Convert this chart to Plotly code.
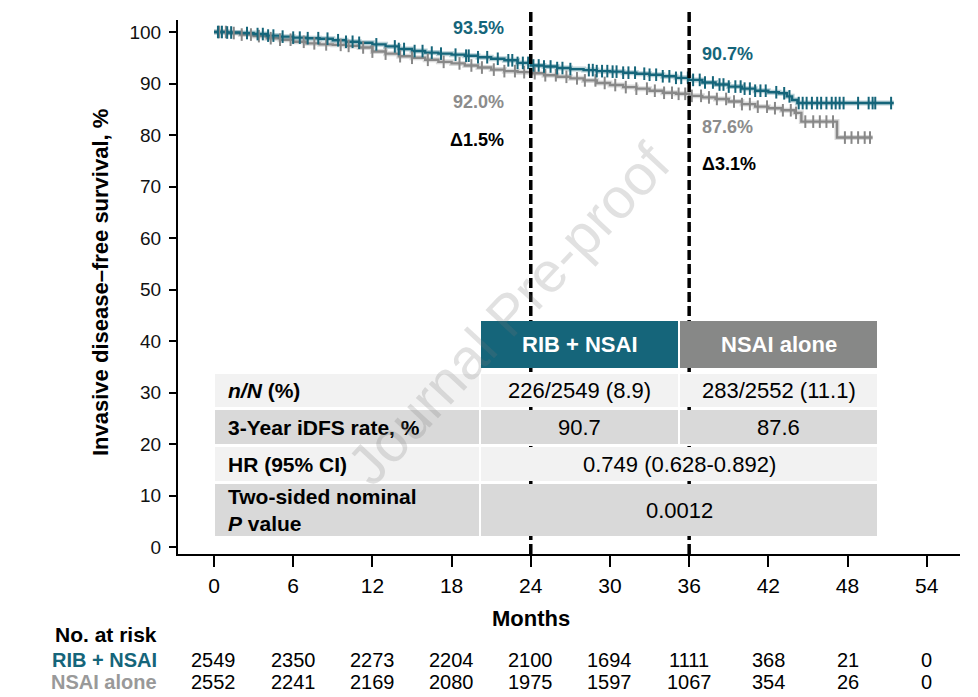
import plotly.graph_objects as go

# ---------------- data ----------------
months_ticks = [0, 6, 12, 18, 24, 30, 36, 42, 48, 54]
y_ticks = [0, 10, 20, 30, 40, 50, 60, 70, 80, 90, 100]

rib_t = [0, 1, 2, 3, 4, 5, 6, 7, 8, 9, 10, 11, 12, 13, 14, 15, 16, 17, 18, 19, 20, 21, 22, 23, 24,
         25, 26, 27, 28, 29, 30, 31, 32, 33, 34, 35, 36, 37, 38, 39, 40, 41, 42, 42.8, 43.4, 43.8, 44.2, 51.5]
rib_s = [100, 99.9, 99.8, 99.6, 99.3, 99.1, 98.9, 98.8, 98.7, 98.4, 98.1, 97.9, 97.6, 97.2, 96.7, 96.3,
         96.0, 95.8, 95.6, 95.4, 95.1, 94.8, 94.5, 94.0, 93.5, 93.3, 93.0, 92.8, 92.6, 92.4, 92.3, 92.1,
         91.9, 91.7, 91.4, 91.1, 90.7, 90.2, 89.8, 89.4, 89.0, 88.6, 88.3, 88.1, 87.5, 86.8, 86.2, 86.2]

nsai_t = [0, 1, 2, 3, 4, 5, 6, 7, 8, 9, 10, 11, 12, 13, 14, 15, 16, 17, 18, 19, 20, 21, 22, 23, 24,
          25, 26, 27, 28, 29, 30, 31, 32, 33, 34, 35, 36, 37, 38, 39, 40, 41, 42, 43, 44, 44.5, 47.2, 49.9]
nsai_s = [100, 99.8, 99.5, 99.2, 98.8, 98.5, 98.1, 97.8, 97.6, 97.5, 97.3, 97.0, 96.2, 95.8, 95.3, 95.0,
          94.6, 94.2, 93.9, 93.5, 93.1, 92.7, 92.4, 92.2, 92.0, 91.6, 91.3, 91.0, 90.6, 90.1, 89.7, 89.3,
          89.0, 88.6, 88.2, 88.0, 87.6, 87.3, 87.0, 86.5, 86.0, 85.5, 85.2, 84.8, 84.3, 82.6, 79.5, 79.5]

rib_cens = [0.3, 0.6, 1.0, 1.3, 2.5, 3.3, 3.7, 4.1, 4.5, 5.2, 6.0, 6.5, 7.1, 7.9, 8.6, 9.4, 10.0, 10.5,
            11.0, 12.3, 13.7, 14.0, 14.4, 15.2, 15.8, 16.5, 17.2, 18.3, 19.1, 19.3, 20.0, 20.7, 21.5,
            22.3, 22.6, 23.0, 23.4, 23.8, 24.2, 24.6, 25.0, 25.5, 26.0, 26.4, 27.0, 28.4, 28.7, 29.0,
            29.4, 29.8, 30.2, 30.5, 31.0, 31.4, 31.9, 32.6, 33.0, 33.5, 34.0, 34.5, 35.0, 35.4, 35.9,
            36.3, 36.8, 37.2, 37.8, 38.3, 38.6, 39.0, 39.5, 39.9, 40.2, 40.6, 41.0, 41.4, 41.8, 42.6,
            43.2, 43.6, 44.3, 44.6, 44.9, 45.3, 45.7, 46.0, 46.4, 46.8, 47.1, 47.4, 47.7, 48.8, 49.6,
            49.9, 50.1, 51.3]
nsai_cens = [0.4, 0.9, 1.5, 2.1, 2.8, 3.4, 4.3, 5.0, 5.8, 6.8, 7.6, 8.5, 9.6, 10.2, 11.3, 12.0, 13.0,
             14.1, 15.0, 16.2, 17.4, 18.6, 19.5, 20.3, 21.2, 22.0, 22.8, 23.5, 24.3, 25.1, 25.9, 26.7,
             27.5, 28.1, 28.9, 29.6, 30.4, 31.2, 32.0, 32.8, 33.4, 34.1, 34.7, 35.2, 35.7, 36.2, 36.9,
             37.5, 38.1, 38.8, 39.4, 40.0, 40.6, 41.2, 41.9, 42.5, 43.1, 43.7, 44.1, 44.8, 45.4, 45.9,
             46.4, 46.9, 47.8, 48.3, 48.8, 49.3, 49.7]

risk_rib = [2549, 2350, 2273, 2204, 2100, 1694, 1111, 368, 21, 0]
risk_nsai = [2552, 2241, 2169, 2080, 1975, 1597, 1067, 354, 26, 0]

arm_names = ["RIB + NSAI", "NSAI alone"]
row_labels = ["<b><i>n/N</i> (%)</b>", "<b>3-Year iDFS rate, %</b>", "<b>HR (95% CI)</b>",
              "<b>Two-sided nominal<br><i>P</i> value</b>"]
row_rib = ["226/2549 (8.9)", "90.7"]
row_nsai = ["283/2552 (11.1)", "87.6"]
row_merged = ["0.749 (0.628-0.892)", "0.0012"]

landmarks = [24, 36]
lm_rib = ["93.5%", "90.7%"]
lm_nsai = ["92.0%", "87.6%"]
lm_delta = ["\u03941.5%", "\u03943.1%"]

# ---------------- style ----------------
TEAL = "#15657A"
GRAY = "#888888"
FONT = "Liberation Sans, Arial, sans-serif"

OFF = 8                      # page body margin
W, H = 978 - OFF, 697 - OFF  # figure size
L, R, T, B = 178, 960, 20, 554  # plot area in reference pixels


def px(x):
    return (x - L) / (R - L)


def py(y):
    return (B - y) / (B - T)


def step_at(ts, ss, t):
    v = ss[0]
    for ti, si in zip(ts, ss):
        if ti <= t:
            v = si
        else:
            break
    return v


fig = go.Figure()

for ts, ss, col in [(nsai_t, nsai_s, GRAY), (rib_t, rib_s, TEAL)]:
    fig.add_trace(go.Scatter(x=ts, y=ss, mode="lines", line=dict(color=col, width=5, shape="hv"),
                             opacity=0.3, hoverinfo="skip", showlegend=False))
    fig.add_trace(go.Scatter(x=ts, y=ss, mode="lines", line=dict(color=col, width=2.4, shape="hv"),
                             showlegend=False))

for ts, ss, cens, col in [(nsai_t, nsai_s, nsai_cens, GRAY), (rib_t, rib_s, rib_cens, TEAL)]:
    fig.add_trace(go.Scatter(x=cens, y=[step_at(ts, ss, c) for c in cens], mode="markers",
                             marker=dict(symbol="line-ns", size=9, line=dict(color=col, width=2)),
                             showlegend=False))

shapes = []
for lm in landmarks:
    shapes.append(dict(type="line", xref="x", yref="paper", x0=lm, x1=lm, y0=0, y1=py(8),
                       line=dict(color="black", width=3.5, dash="10px,4px")))

# table geometry (reference pixels)
c1 = (215, 479)
c2 = (481, 678)
c3 = (680, 877)
hdr = (321, 368)
rows = [(374, 407), (410, 444), (447, 481), (484, 536)]
row_fill = ["#F2F2F2", "#D9D9D9", "#F2F2F2", "#D9D9D9"]


def rect(x0, x1, y0, y1, fill):
    return dict(type="rect", xref="paper", yref="paper", x0=px(x0), x1=px(x1), y0=py(y1), y1=py(y0),
                fillcolor=fill, line=dict(width=0), layer="above")


shapes.append(rect(c2[0], c2[1], hdr[0], hdr[1], TEAL))
shapes.append(rect(c3[0], c3[1], hdr[0], hdr[1], "#878887"))
for i, (y0, y1) in enumerate(rows):
    shapes.append(rect(c1[0], c1[1], y0, y1, row_fill[i]))
    if i < 2:
        shapes.append(rect(c2[0], c2[1], y0, y1, row_fill[i]))
        shapes.append(rect(c3[0], c3[1], y0, y1, row_fill[i]))
    else:
        shapes.append(rect(c2[0], c3[1], y0, y1, row_fill[i]))

ann = []


def text(x, y, s, size=22, color="black", xanchor="center", yanchor="middle", xref="paper",
         yref="paper", align="center", angle=0):
    ann.append(dict(x=x, y=y, xref=xref, yref=yref, text=s, showarrow=False, xanchor=xanchor,
                    yanchor=yanchor, align=align, textangle=angle,
                    font=dict(family=FONT, size=size, color=color)))


# table header
for (x0, x1), name in zip([c2, c3], arm_names):
    text(px((x0 + x1) / 2), py((hdr[0] + hdr[1]) / 2), "<b>" + name + "</b>", size=22, color="white")
# table rows
for i, (y0, y1) in enumerate(rows):
    yc = py((y0 + y1) / 2)
    text(px(226), yc, row_labels[i], size=21, xanchor="left", align="left")
    if i < 2:
        text(px((c2[0] + c2[1]) / 2), yc, row_rib[i], size=22)
        text(px((c3[0] + c3[1]) / 2), yc, row_nsai[i], size=22)
    else:
        text(px((c2[0] + c3[1]) / 2), yc, row_merged[i - 2], size=22)

# landmark labels
text(landmarks[0] - 1.9, 100.8, "<b>" + lm_rib[0] + "</b>", size=18, color=TEAL, xanchor="right", xref="x", yref="y")
text(landmarks[0] - 1.9, 86.4, "<b>" + lm_nsai[0] + "</b>", size=18, color="#8C8C8C", xanchor="right", xref="x", yref="y")
text(landmarks[0] - 1.9, 79.0, "<b>" + lm_delta[0] + "</b>", size=18, color="black", xanchor="right", xref="x", yref="y")
text(landmarks[1] + 0.8, 95.7, "<b>" + lm_rib[1] + "</b>", size=18, color=TEAL, xanchor="left", xref="x", yref="y")
text(landmarks[1] + 0.8, 81.6, "<b>" + lm_nsai[1] + "</b>", size=18, color="#8C8C8C", xanchor="left", xref="x", yref="y")
text(landmarks[1] + 0.8, 74.4, "<b>" + lm_delta[1] + "</b>", size=18, color="black", xanchor="left", xref="x", yref="y")

# axis titles
text(24, py(618), "<b>Months</b>", size=22, xref="x")
text(px(100), py(283), "<b>Invasive disease\u2013free survival, %</b>", size=22, angle=-90)

# risk table
text(px(159), py(634), "<b>No. at risk</b>", size=21, xanchor="right")
text(px(159), py(660), "<b>" + arm_names[0] + "</b>", size=20, color=TEAL, xanchor="right")
text(px(159), py(682), "<b>" + arm_names[1] + "</b>", size=20, color="#999999", xanchor="right")
for m, a, b in zip(months_ticks, risk_rib, risk_nsai):
    text(m, py(660), str(a), size=20, xref="x")
    text(m, py(682), str(b), size=20, xref="x")

# watermark
text(px(508), py(314), "Journal Pre-proof", size=57, color="rgba(120,120,120,0.22)", angle=-47)

fig.update_layout(
    width=W, height=H,
    margin=dict(l=L - OFF, r=W - (R - OFF), t=T - OFF, b=H - (B - OFF)),
    plot_bgcolor="white", paper_bgcolor="white",
    showlegend=False,
    shapes=shapes, annotations=ann,
    font=dict(family=FONT, color="black"),
    xaxis=dict(range=[-2.727, 56.52], tickvals=months_ticks, ticks="outside", ticklen=11, tickwidth=2,
               tickcolor="black", showline=True, linecolor="black", linewidth=2, showgrid=False,
               zeroline=False, tickfont=dict(size=21, family=FONT, color="black"), ticklabelstandoff=1),
    yaxis=dict(range=[-1.359, 102.33], tickvals=y_ticks, ticks="outside", ticklen=7, tickwidth=2,
               tickcolor="black", showline=True, linecolor="black", linewidth=2, showgrid=False,
               zeroline=False, tickfont=dict(size=19, family=FONT, color="#111111"), ticklabelstandoff=4),
)

fig.write_html("out.html")
